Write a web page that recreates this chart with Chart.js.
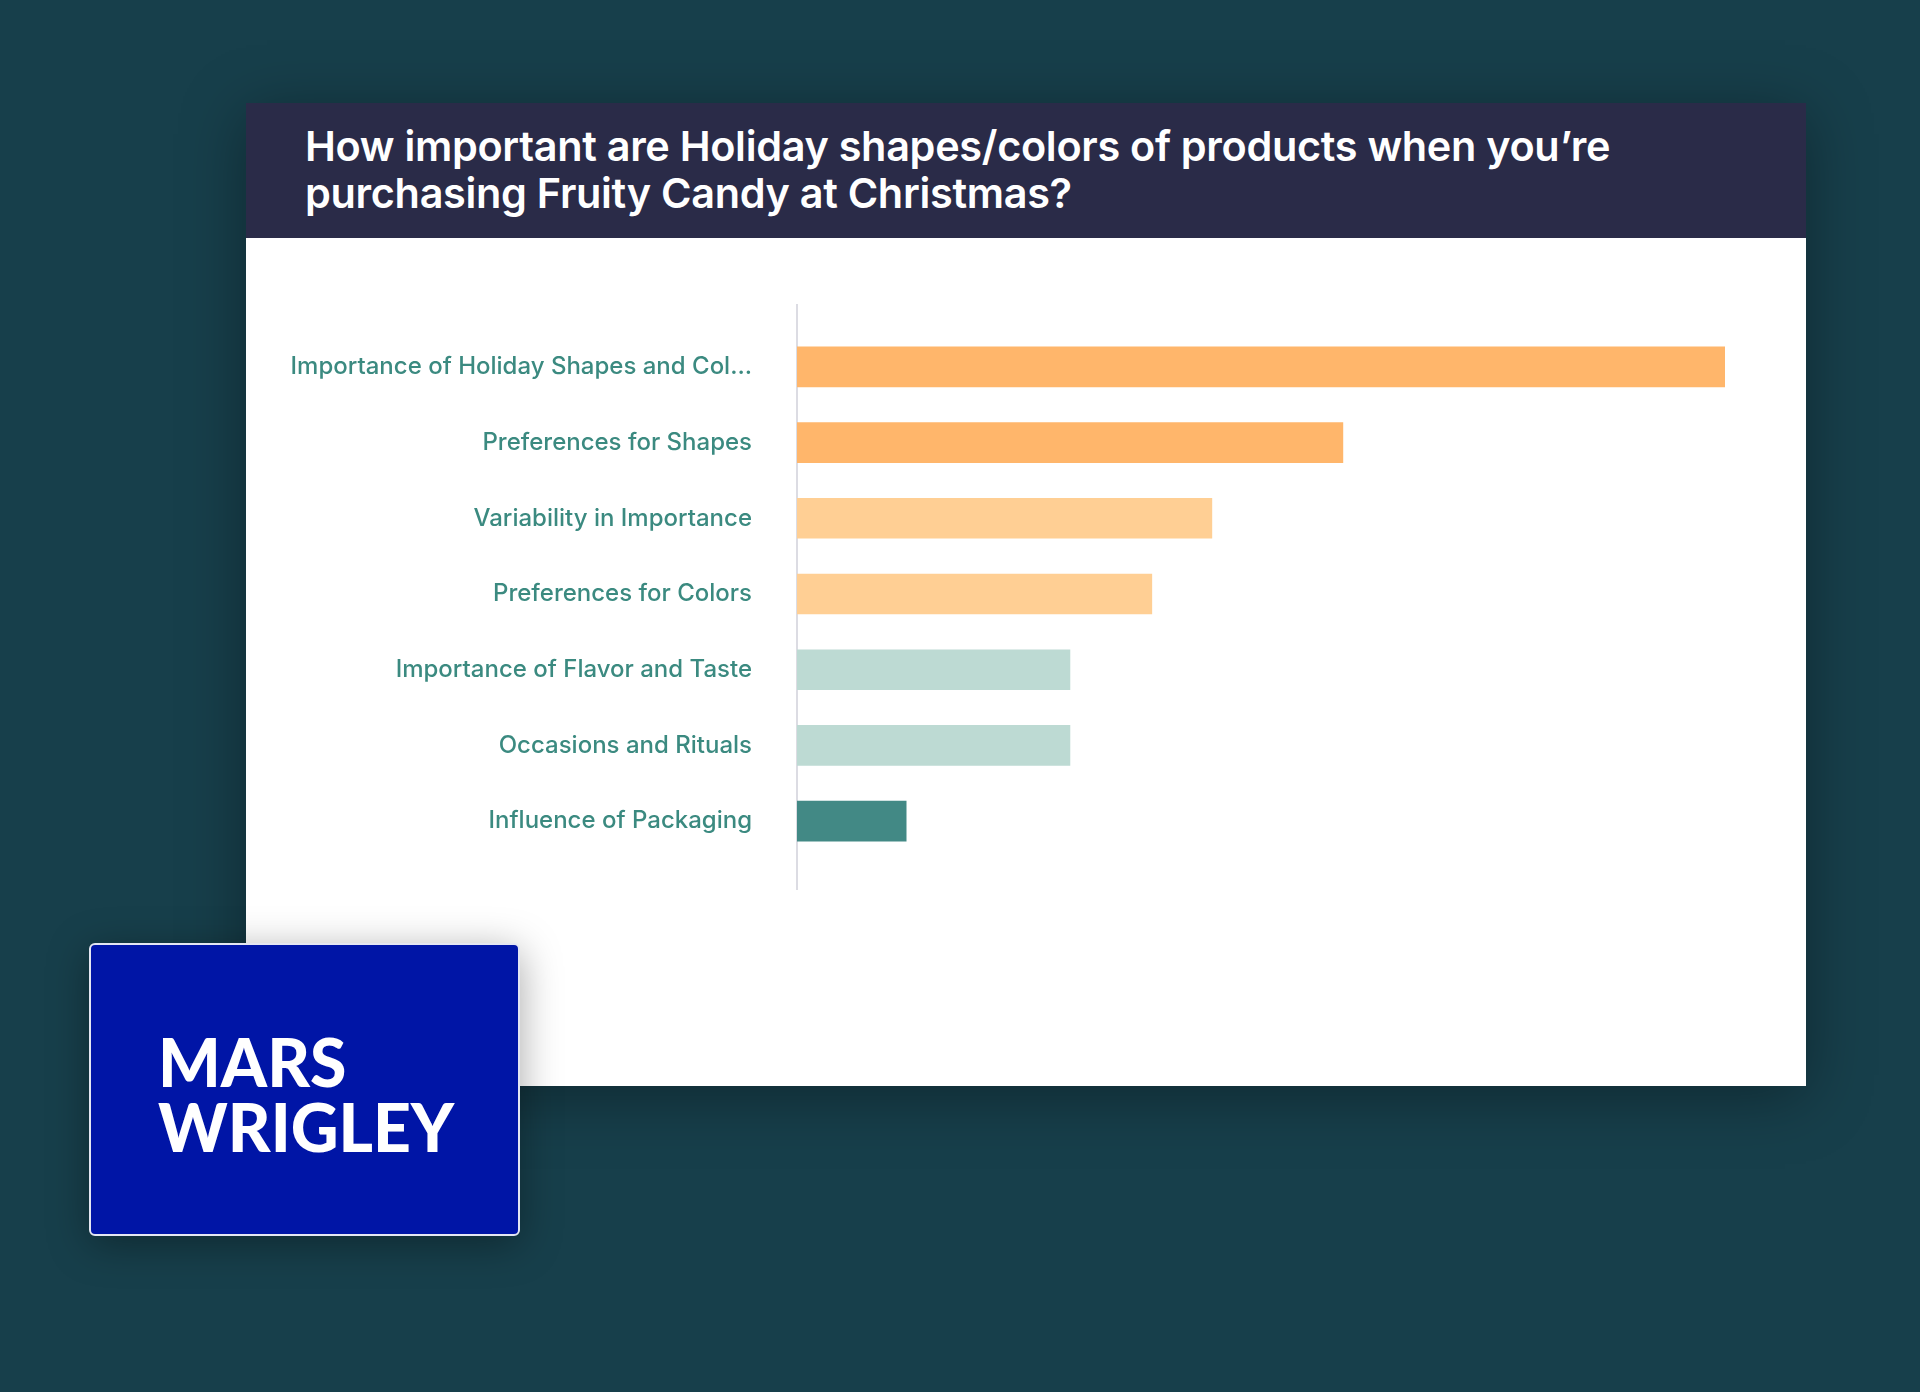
<!DOCTYPE html>
<html>
<head>
<meta charset="utf-8">
<script src="https://cdn.jsdelivr.net/npm/chart.js@4/dist/chart.umd.min.js"></script>
<style>
  html,body{margin:0;padding:0}
  body{width:1920px;height:1392px;background:#173f4b;position:relative;overflow:hidden;font-family:Inter, "Noto Sans", sans-serif}
  .card{position:absolute;left:246px;top:103px;width:1560px;height:983px;background:#fff;box-shadow:0 10px 60px rgba(0,0,0,.35)}
  .head{height:135px;background:#2a2b48;box-sizing:border-box;padding:20px 0 0 59px}
  .head h1{margin:0;color:#fff;font-weight:600;font-size:41.4px;line-height:47px;letter-spacing:-0.3px}
  .plot{position:absolute;left:0;top:135px;width:1560px;height:848px}
  .logo{position:absolute;left:89px;top:943px;width:431px;height:293px;box-sizing:border-box;background:#0015a6;border:2px solid #e4e6f2;border-radius:6px;box-shadow:0 8px 40px rgba(0,0,0,.35)}
  .logo div{position:absolute;left:67px;top:84px;color:#fff;font-family:Lato, sans-serif;font-weight:900;font-size:66px;line-height:65px}
</style>
</head>
<body>
<div class="card">
  <div class="head"><h1>How important are Holiday shapes/colors of products when you’re<br>purchasing Fruity Candy at Christmas?</h1></div>
  <div class="plot"><canvas id="bars" width="1560" height="848"></canvas></div>
</div>
<div class="logo"><div>MARS<br>WRIGLEY</div></div>

<script>
/* ---------- Data ---------- */
const categories = [
  "Importance of Holiday Shapes and Col...",
  "Preferences for Shapes",
  "Variability in Importance",
  "Preferences for Colors",
  "Importance of Flavor and Taste",
  "Occasions and Rituals",
  "Influence of Packaging"
];
const values = [34, 20, 15.2, 13, 10, 10, 4];
const barColors = ["#ffb66b","#ffb66b","#ffcf94","#ffcf94","#bddad3","#bddad3","#428985"];

/* ---------- Axis line (runs a bit past the bars) ---------- */
const axisLine = {
  id:"axisLine",
  beforeDatasetsDraw(c){
    const x = c.scales.x.getPixelForValue(0);
    const a = c.chartArea;
    const g = c.ctx;
    g.save();
    g.strokeStyle = "#dcdce3";
    g.lineWidth = 2;
    g.beginPath();
    g.moveTo(x, a.top - 25);
    g.lineTo(x, a.bottom + 31);
    g.stroke();
    g.restore();
  }
};

const ctx = document.getElementById("bars").getContext("2d");
new Chart(ctx, {
  type:"bar",
  data:{
    labels: categories,
    datasets:[{
      data: values,
      backgroundColor: barColors,
      borderWidth: 0,
      barThickness: 40
    }]
  },
  options:{
    indexAxis:"y",
    responsive:false,
    animation:false,
    layout:{ padding:{ top:91, bottom:227, right:81, left:0 } },
    plugins:{ legend:{ display:false }, tooltip:{ enabled:false } },
    scales:{
      x:{ display:false, min:0, max:34 },
      y:{
        grid:{ display:false },
        border:{ display:false },
        ticks:{ color:"#3b8a80", padding:37, font:{ family:"Inter", size:24, weight:"500" } },
        afterFit(s){ s.width = 551; }
      }
    }
  },
  plugins:[axisLine]
});
</script>
</body>
</html>
